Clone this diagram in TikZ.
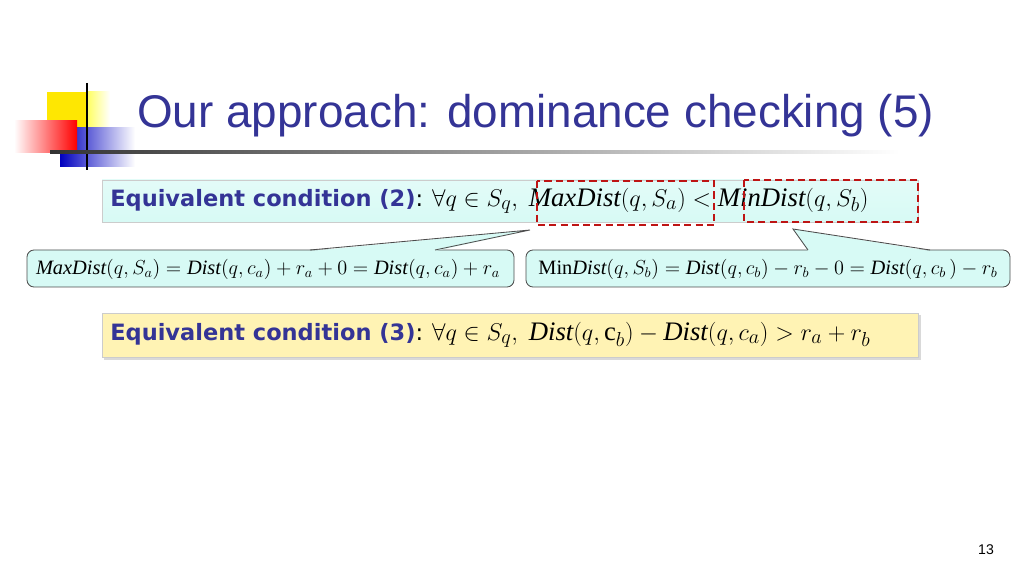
\documentclass[tikz,border=0pt]{standalone}
\usepackage{fontspec}
\setmainfont{Liberation Serif}
\newfontfamily\tah{DejaVu Sans}
\newfontfamily\arl{Liberation Sans}
\definecolor{ttl}{RGB}{52,52,150}
\definecolor{cy}{RGB}{215,250,245}
\definecolor{yl}{RGB}{255,243,180}
\definecolor{dred}{RGB}{190,20,20}
\tikzset{
 call/.style={draw=black!70,fill=cy,rounded corners=5pt,line width=0.6pt},
 redd/.style={draw=dred,line width=1.4pt,dash pattern=on 5pt off 3pt},
}
\newcommand{\mi}{\mathit}
\newcommand{\lab}[1]{{\tah\fontsize{16}{20}\selectfont\textbf{\color{ttl}#1}:}}
\begin{document}
\begin{tikzpicture}[x=0.025cm,y=-0.025cm]
\useasboundingbox (0,0) rectangle (1024,576);
% logo
\fill[yellow!90!orange] (47,92) rectangle (88,132);
\shade[left color=white!40!yellow,right color=white] (88,92) rectangle (110,132);
\shade[left color=blue!75!black,right color=white] (60,128) rectangle (135,167);
\shade[left color=white,right color=red] (14,121) rectangle (77,153);
\draw[line width=2pt] (87,83) -- (87,170);
\shade[left color=black!80,right color=white] (50,151) rectangle (900,154);
\node[anchor=base west,text=ttl,font=\arl\fontsize{32.6}{40}\selectfont,inner sep=0] (title) at (137,128) {Our approach: dominance checking (5)};
% box 2
\shade[top color=cy!70,bottom color=cy,draw=black!20] (102,180) rectangle (918,222);
\node[anchor=west,inner sep=0,font=\fontsize{19}{22}\selectfont] (c2) at (110,201)
 {\lab{Equivalent condition (2)} $\forall q\in S_q,\ \mi{MaxDist}(q,S_a) < \mi{MinDist}(q,S_b)$};
\draw[redd] (537,181) rectangle (714,225);
\draw[redd] (744,180) rectangle (918,222);
% callouts
\draw[call] (27,250) rectangle (514,287);
\fill[cy] (310,251) -- (530,230) -- (435,251) -- cycle;
\draw[black!70,line width=0.6pt] (310,250) -- (530,230) -- (435,250);
\node[inner sep=0,font=\fontsize{14.5}{16}\selectfont] (l) at (268,269) {$\mi{MaxDist}(q,S_a)=\mi{Dist}(q,c_a)+r_a+0=\mi{Dist}(q,c_a)+r_a$};
\draw[call] (526,250) rectangle (1010,287);
\fill[cy] (808,251) -- (793,229) -- (930,251) -- cycle;
\draw[black!70,line width=0.6pt] (808,250) -- (793,229) -- (930,250);
\node[inner sep=0,font=\fontsize{14.5}{16}\selectfont] (r) at (768,269) {$\mathrm{Min}\mi{Dist}(q,S_b)=\mi{Dist}(q,c_b)-r_b-0=\mi{Dist}(q,c_b\,)-r_b$};
% box 3
\fill[black!15] (104,315) rectangle (921,360);
\draw[fill=yl,draw=black!20] (102,313) rectangle (918,357);
\node[anchor=west,inner sep=0,font=\fontsize{19}{22}\selectfont] (c3) at (110,335)
 {\lab{Equivalent condition (3)} $\forall q\in S_q,\ \mi{Dist}(q,\mathrm{c}_b)-\mi{Dist}(q,c_a)>r_a+r_b$};
\node[font=\arl\fontsize{10}{12}\selectfont] (pg) at (986,550) {13};
\end{tikzpicture}
\end{document}
